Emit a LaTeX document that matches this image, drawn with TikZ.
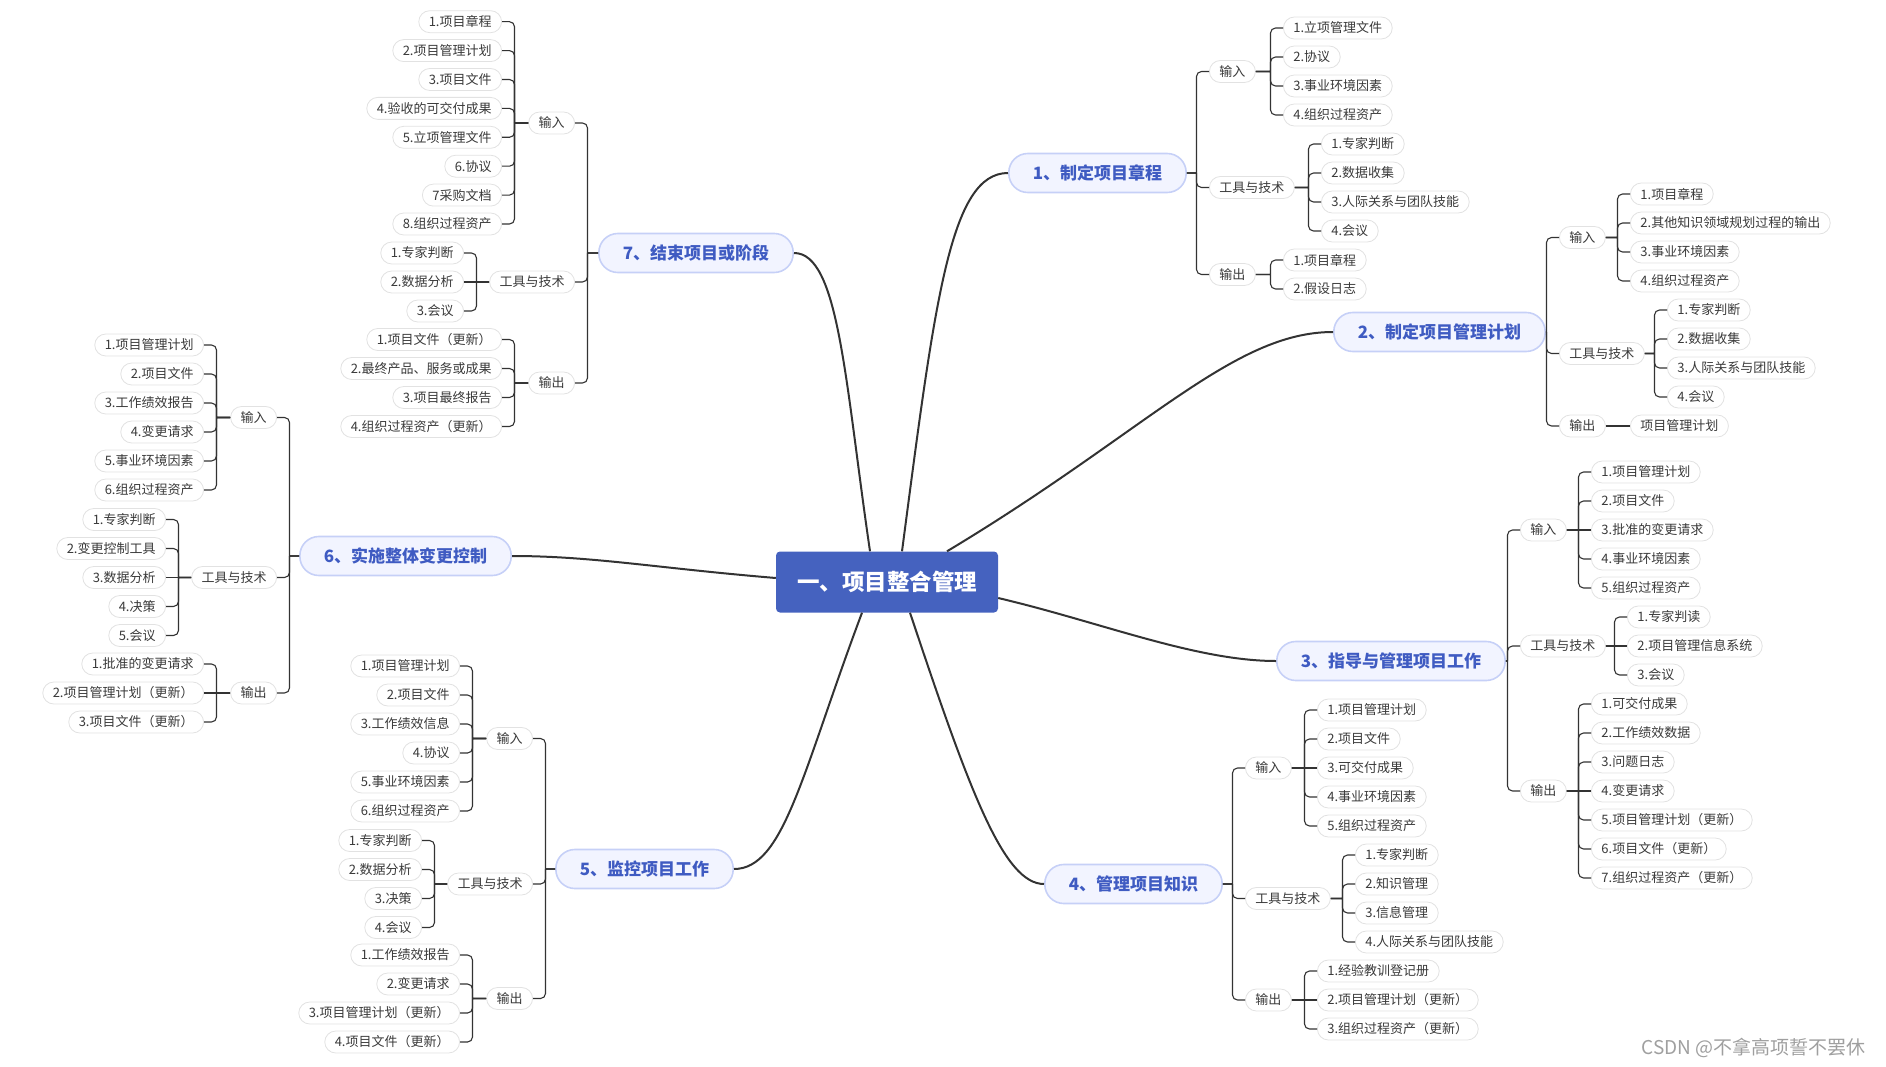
\documentclass[tikz,border=0pt]{standalone}
\usepackage{fontspec}
\setmainfont{Noto Sans CJK SC}
\usetikzlibrary{calc}

\definecolor{rootblue}{HTML}{4562BF}
\definecolor{branchfill}{HTML}{F2F4FF}
\definecolor{branchline}{HTML}{C6D0F7}
\definecolor{branchtext}{HTML}{3F5BC2}
\definecolor{leafline}{HTML}{E2E2E2}
\definecolor{leaftext}{HTML}{3A3A3A}
\definecolor{linecol}{HTML}{333333}

\begin{document}
\begin{tikzpicture}[x=1pt, y=-1pt,
                    root/.style={fill=rootblue, rounded corners=4pt, minimum width=222pt, minimum height=61pt, text=white, font=\fontsize{22.5}{26}\selectfont\bfseries},
                    branch/.style={draw=branchline, fill=branchfill, line width=1.6pt, rounded corners=19pt, minimum height=39pt, inner xsep=24pt, text=branchtext, font=\fontsize{17}{20}\selectfont\bfseries},
                    leaf/.style={draw=leafline, fill=white, line width=0.8pt, rounded corners=11pt, minimum height=22pt, inner xsep=10pt, inner ysep=0pt, text=leaftext, font=\fontsize{13}{15}\selectfont},
                    trunk/.style={draw=linecol, line width=2pt},
                    rlink/.style={draw=linecol, line width=1.1pt, to path={(\tikztostart.east) -- ($(\tikztostart.east -| \tikztotarget.west)+(-12.5,0)$) [rounded corners=5pt] ($(\tikztostart.east -| \tikztotarget.west)+(-12.5,0)$) |- (\tikztotarget.west)}},
                    llink/.style={draw=linecol, line width=1.1pt, to path={(\tikztostart.west) -- ($(\tikztostart.west -| \tikztotarget.east)+(12.5,0)$) [rounded corners=5pt] ($(\tikztostart.west -| \tikztotarget.east)+(12.5,0)$) |- (\tikztotarget.east)}}]

    \useasboundingbox (0,0) rectangle (1886,1067);

    \node[root] (root) at (887,582) {一、项目整合管理};

    % 1
    \node[branch, anchor=west] (p1) at (1008,173) {1、制定项目章程};
    \node[leaf, anchor=west] (p1a) at (1209,71.5) {输入};
    \node[leaf, anchor=west] (p1t) at (1209,187.5) {工具与技术};
    \node[leaf, anchor=west] (p1o) at (1209,274.5) {输出};
    \node[leaf, anchor=west] (p1a1) at (1283,28) {1.立项管理文件};
    \node[leaf, anchor=west] (p1a2) at (1283,57) {2.协议};
    \node[leaf, anchor=west] (p1a3) at (1283,86) {3.事业环境因素};
    \node[leaf, anchor=west] (p1a4) at (1283,115) {4.组织过程资产};
    \node[leaf, anchor=west] (p1t1) at (1321,144) {1.专家判断};
    \node[leaf, anchor=west] (p1t2) at (1321,173) {2.数据收集};
    \node[leaf, anchor=west] (p1t3) at (1321,202) {3.人际关系与团队技能};
    \node[leaf, anchor=west] (p1t4) at (1321,231) {4.会议};
    \node[leaf, anchor=west] (p1o1) at (1283,260) {1.项目章程};
    \node[leaf, anchor=west] (p1o2) at (1283,289) {2.假设日志};

    % 2
    \node[branch, anchor=west] (p2) at (1333,332) {2、制定项目管理计划};
    \node[leaf, anchor=west] (p2a) at (1559,237.5) {输入};
    \node[leaf, anchor=west] (p2t) at (1559,353.5) {工具与技术};
    \node[leaf, anchor=west] (p2o) at (1559,426) {输出};
    \node[leaf, anchor=west] (p2a1) at (1630,194) {1.项目章程};
    \node[leaf, anchor=west] (p2a2) at (1630,223) {2.其他知识领域规划过程的输出};
    \node[leaf, anchor=west] (p2a3) at (1630,252) {3.事业环境因素};
    \node[leaf, anchor=west] (p2a4) at (1630,281) {4.组织过程资产};
    \node[leaf, anchor=west] (p2t1) at (1667,310) {1.专家判断};
    \node[leaf, anchor=west] (p2t2) at (1667,339) {2.数据收集};
    \node[leaf, anchor=west] (p2t3) at (1667,368) {3.人际关系与团队技能};
    \node[leaf, anchor=west] (p2t4) at (1667,397) {4.会议};
    \node[leaf, anchor=west] (p2o1) at (1630,426) {项目管理计划};

    % 3
    \node[branch, anchor=west] (p3) at (1276,661) {3、指导与管理项目工作};
    \node[leaf, anchor=west] (p3a) at (1520,530) {输入};
    \node[leaf, anchor=west] (p3t) at (1520,646) {工具与技术};
    \node[leaf, anchor=west] (p3o) at (1520,791) {输出};
    \node[leaf, anchor=west] (p3a1) at (1591,472) {1.项目管理计划};
    \node[leaf, anchor=west] (p3a2) at (1591,501) {2.项目文件};
    \node[leaf, anchor=west] (p3a3) at (1591,530) {3.批准的变更请求};
    \node[leaf, anchor=west] (p3a4) at (1591,559) {4.事业环境因素};
    \node[leaf, anchor=west] (p3a5) at (1591,588) {5.组织过程资产};
    \node[leaf, anchor=west] (p3t1) at (1627,617) {1.专家判读};
    \node[leaf, anchor=west] (p3t2) at (1627,646) {2.项目管理信息系统};
    \node[leaf, anchor=west] (p3t3) at (1627,675) {3.会议};
    \node[leaf, anchor=west] (p3o1) at (1591,704) {1.可交付成果};
    \node[leaf, anchor=west] (p3o2) at (1591,733) {2.工作绩效数据};
    \node[leaf, anchor=west] (p3o3) at (1591,762) {3.问题日志};
    \node[leaf, anchor=west] (p3o4) at (1591,791) {4.变更请求};
    \node[leaf, anchor=west] (p3o5) at (1591,820) {5.项目管理计划（更新）};
    \node[leaf, anchor=west] (p3o6) at (1591,849) {6.项目文件（更新）};
    \node[leaf, anchor=west] (p3o7) at (1591,878) {7.组织过程资产（更新）};

    % 4
    \node[branch, anchor=west] (p4) at (1044,884) {4、管理项目知识};
    \node[leaf, anchor=west] (p4a) at (1245,768) {输入};
    \node[leaf, anchor=west] (p4t) at (1245,898.5) {工具与技术};
    \node[leaf, anchor=west] (p4o) at (1245,1000) {输出};
    \node[leaf, anchor=west] (p4a1) at (1317,710) {1.项目管理计划};
    \node[leaf, anchor=west] (p4a2) at (1317,739) {2.项目文件};
    \node[leaf, anchor=west] (p4a3) at (1317,768) {3.可交付成果};
    \node[leaf, anchor=west] (p4a4) at (1317,797) {4.事业环境因素};
    \node[leaf, anchor=west] (p4a5) at (1317,826) {5.组织过程资产};
    \node[leaf, anchor=west] (p4t1) at (1355,855) {1.专家判断};
    \node[leaf, anchor=west] (p4t2) at (1355,884) {2.知识管理};
    \node[leaf, anchor=west] (p4t3) at (1355,913) {3.信息管理};
    \node[leaf, anchor=west] (p4t4) at (1355,942) {4.人际关系与团队技能};
    \node[leaf, anchor=west] (p4o1) at (1317,971) {1.经验教训登记册};
    \node[leaf, anchor=west] (p4o2) at (1317,1000) {2.项目管理计划（更新）};
    \node[leaf, anchor=west] (p4o3) at (1317,1029) {3.组织过程资产（更新）};

    % 5
    \node[branch, anchor=east] (p5) at (734,869) {5、监控项目工作};
    \node[leaf, anchor=east] (p5a) at (533,738.5) {输入};
    \node[leaf, anchor=east] (p5t) at (533,884) {工具与技术};
    \node[leaf, anchor=east] (p5o) at (533,998.5) {输出};
    \node[leaf, anchor=east] (p5a1) at (460,666) {1.项目管理计划};
    \node[leaf, anchor=east] (p5a2) at (460,695) {2.项目文件};
    \node[leaf, anchor=east] (p5a3) at (460,724) {3.工作绩效信息};
    \node[leaf, anchor=east] (p5a4) at (460,753) {4.协议};
    \node[leaf, anchor=east] (p5a5) at (460,782) {5.事业环境因素};
    \node[leaf, anchor=east] (p5a6) at (460,811) {6.组织过程资产};
    \node[leaf, anchor=east] (p5t1) at (422,840.5) {1.专家判断};
    \node[leaf, anchor=east] (p5t2) at (422,869.5) {2.数据分析};
    \node[leaf, anchor=east] (p5t3) at (422,898.5) {3.决策};
    \node[leaf, anchor=east] (p5t4) at (422,927.5) {4.会议};
    \node[leaf, anchor=east] (p5o1) at (460,955) {1.工作绩效报告};
    \node[leaf, anchor=east] (p5o2) at (460,984) {2.变更请求};
    \node[leaf, anchor=east] (p5o3) at (460,1013) {3.项目管理计划（更新）};
    \node[leaf, anchor=east] (p5o4) at (460,1042) {4.项目文件（更新）};

    % 6
    \node[branch, anchor=east] (p6) at (512,556) {6、实施整体变更控制};
    \node[leaf, anchor=east] (p6a) at (277,417.5) {输入};
    \node[leaf, anchor=east] (p6t) at (277,577.5) {工具与技术};
    \node[leaf, anchor=east] (p6o) at (277,693) {输出};
    \node[leaf, anchor=east] (p6a1) at (204,345) {1.项目管理计划};
    \node[leaf, anchor=east] (p6a2) at (204,374) {2.项目文件};
    \node[leaf, anchor=east] (p6a3) at (204,403) {3.工作绩效报告};
    \node[leaf, anchor=east] (p6a4) at (204,432) {4.变更请求};
    \node[leaf, anchor=east] (p6a5) at (204,461) {5.事业环境因素};
    \node[leaf, anchor=east] (p6a6) at (204,490) {6.组织过程资产};
    \node[leaf, anchor=east] (p6t1) at (166,519.5) {1.专家判断};
    \node[leaf, anchor=east] (p6t2) at (166,548.5) {2.变更控制工具};
    \node[leaf, anchor=east] (p6t3) at (166,577.5) {3.数据分析};
    \node[leaf, anchor=east] (p6t4) at (166,606.5) {4.决策};
    \node[leaf, anchor=east] (p6t5) at (166,635.5) {5.会议};
    \node[leaf, anchor=east] (p6o1) at (204,664) {1.批准的变更请求};
    \node[leaf, anchor=east] (p6o2) at (204,693) {2.项目管理计划（更新）};
    \node[leaf, anchor=east] (p6o3) at (204,722) {3.项目文件（更新）};

    % 7
    \node[branch, anchor=east] (p7) at (794,253) {7、结束项目或阶段};
    \node[leaf, anchor=east] (p7a) at (575,123) {输入};
    \node[leaf, anchor=east] (p7t) at (575,282) {工具与技术};
    \node[leaf, anchor=east] (p7o) at (575,383) {输出};
    \node[leaf, anchor=east] (p7a1) at (502,21.7) {1.项目章程};
    \node[leaf, anchor=east] (p7a2) at (502,50.6) {2.项目管理计划};
    \node[leaf, anchor=east] (p7a3) at (502,79.5) {3.项目文件};
    \node[leaf, anchor=east] (p7a4) at (502,108.4) {4.验收的可交付成果};
    \node[leaf, anchor=east] (p7a5) at (502,137.3) {5.立项管理文件};
    \node[leaf, anchor=east] (p7a6) at (502,166.2) {6.协议};
    \node[leaf, anchor=east] (p7a7) at (502,195.1) {7采购文档};
    \node[leaf, anchor=east] (p7a8) at (502,224) {8.组织过程资产};
    \node[leaf, anchor=east] (p7t1) at (464,253) {1.专家判断};
    \node[leaf, anchor=east] (p7t2) at (464,282) {2.数据分析};
    \node[leaf, anchor=east] (p7t3) at (464,311) {3.会议};
    \node[leaf, anchor=east] (p7o1) at (502,339.5) {1.项目文件（更新）};
    \node[leaf, anchor=east] (p7o2) at (502,368.5) {2.最终产品、服务或成果};
    \node[leaf, anchor=east] (p7o3) at (502,397.5) {3.项目最终报告};
    \node[leaf, anchor=east] (p7o4) at (502,426.5) {4.组织过程资产（更新）};

    \node[anchor=east, text=gray!75, font=\fontsize{19}{22}\selectfont] (mark) at (1869,1048) {CSDN @不拿高项誓不罢休};

    % trunk
    \draw[trunk] ([xshift=15pt]root.north) .. controls +(33,-251) and +(-58,0) .. (p1.west);
    \draw[trunk] ([xshift=60pt]root.north) .. controls +(200,-120) and +(-100,0) .. (p2.west);
    \draw[trunk] ([yshift=-16pt]root.east) .. controls +(102,24) and +(-80,0) .. (p3.west);
    \draw[trunk] ([xshift=23pt]root.south) .. controls +(60,180) and +(-40,0) .. (p4.west);
    \draw[trunk] ([xshift=-25pt]root.south) .. controls +(-60,160) and +(50,0) .. (p5.east);
    \draw[trunk] ([yshift=4pt]root.west) .. controls +(-120,-10) and +(80,0) .. (p6.east);
    \draw[trunk] ([xshift=-17pt]root.north) .. controls +(-25,-170) and +(45,0) .. (p7.east);

    % 1
    \draw[rlink] (p1) to (p1a);
    \draw[rlink] (p1) to (p1t);
    \draw[rlink] (p1) to (p1o);
    \draw[rlink] (p1a) to (p1a1);
    \draw[rlink] (p1a) to (p1a2);
    \draw[rlink] (p1a) to (p1a3);
    \draw[rlink] (p1a) to (p1a4);
    \draw[rlink] (p1t) to (p1t1);
    \draw[rlink] (p1t) to (p1t2);
    \draw[rlink] (p1t) to (p1t3);
    \draw[rlink] (p1t) to (p1t4);
    \draw[rlink] (p1o) to (p1o1);
    \draw[rlink] (p1o) to (p1o2);

    % 2
    \draw[rlink] (p2) to (p2a);
    \draw[rlink] (p2) to (p2t);
    \draw[rlink] (p2) to (p2o);
    \draw[rlink] (p2a) to (p2a1);
    \draw[rlink] (p2a) to (p2a2);
    \draw[rlink] (p2a) to (p2a3);
    \draw[rlink] (p2a) to (p2a4);
    \draw[rlink] (p2t) to (p2t1);
    \draw[rlink] (p2t) to (p2t2);
    \draw[rlink] (p2t) to (p2t3);
    \draw[rlink] (p2t) to (p2t4);
    \draw[rlink] (p2o) -- (p2o1);

    % 3
    \draw[rlink] (p3) to (p3a);
    \draw[rlink] (p3) to (p3t);
    \draw[rlink] (p3) to (p3o);
    \draw[rlink] (p3a) to (p3a1);
    \draw[rlink] (p3a) to (p3a2);
    \draw[rlink] (p3a) -- (p3a3);
    \draw[rlink] (p3a) to (p3a4);
    \draw[rlink] (p3a) to (p3a5);
    \draw[rlink] (p3t) to (p3t1);
    \draw[rlink] (p3t) -- (p3t2);
    \draw[rlink] (p3t) to (p3t3);
    \draw[rlink] (p3o) to (p3o1);
    \draw[rlink] (p3o) to (p3o2);
    \draw[rlink] (p3o) to (p3o3);
    \draw[rlink] (p3o) -- (p3o4);
    \draw[rlink] (p3o) to (p3o5);
    \draw[rlink] (p3o) to (p3o6);
    \draw[rlink] (p3o) to (p3o7);

    % 4
    \draw[rlink] (p4) to (p4a);
    \draw[rlink] (p4) to (p4t);
    \draw[rlink] (p4) to (p4o);
    \draw[rlink] (p4a) to (p4a1);
    \draw[rlink] (p4a) to (p4a2);
    \draw[rlink] (p4a) -- (p4a3);
    \draw[rlink] (p4a) to (p4a4);
    \draw[rlink] (p4a) to (p4a5);
    \draw[rlink] (p4t) to (p4t1);
    \draw[rlink] (p4t) to (p4t2);
    \draw[rlink] (p4t) to (p4t3);
    \draw[rlink] (p4t) to (p4t4);
    \draw[rlink] (p4o) to (p4o1);
    \draw[rlink] (p4o) -- (p4o2);
    \draw[rlink] (p4o) to (p4o3);

    % 5
    \draw[llink] (p5) to (p5a);
    \draw[llink] (p5) to (p5t);
    \draw[llink] (p5) to (p5o);
    \draw[llink] (p5a) to (p5a1);
    \draw[llink] (p5a) to (p5a2);
    \draw[llink] (p5a) to (p5a3);
    \draw[llink] (p5a) to (p5a4);
    \draw[llink] (p5a) to (p5a5);
    \draw[llink] (p5a) to (p5a6);
    \draw[llink] (p5t) to (p5t1);
    \draw[llink] (p5t) to (p5t2);
    \draw[llink] (p5t) to (p5t3);
    \draw[llink] (p5t) to (p5t4);
    \draw[llink] (p5o) to (p5o1);
    \draw[llink] (p5o) to (p5o2);
    \draw[llink] (p5o) to (p5o3);
    \draw[llink] (p5o) to (p5o4);

    % 6
    \draw[llink] (p6) to (p6a);
    \draw[llink] (p6) to (p6t);
    \draw[llink] (p6) to (p6o);
    \draw[llink] (p6a) to (p6a1);
    \draw[llink] (p6a) to (p6a2);
    \draw[llink] (p6a) to (p6a3);
    \draw[llink] (p6a) to (p6a4);
    \draw[llink] (p6a) to (p6a5);
    \draw[llink] (p6a) to (p6a6);
    \draw[llink] (p6t) to (p6t1);
    \draw[llink] (p6t) to (p6t2);
    \draw[llink] (p6t) -- (p6t3);
    \draw[llink] (p6t) to (p6t4);
    \draw[llink] (p6t) to (p6t5);
    \draw[llink] (p6o) to (p6o1);
    \draw[llink] (p6o) -- (p6o2);
    \draw[llink] (p6o) to (p6o3);

    % 7
    \draw[llink] (p7) to (p7a);
    \draw[llink] (p7) to (p7t);
    \draw[llink] (p7) to (p7o);
    \draw[llink] (p7a) to (p7a1);
    \draw[llink] (p7a) to (p7a2);
    \draw[llink] (p7a) to (p7a3);
    \draw[llink] (p7a) to (p7a4);
    \draw[llink] (p7a) to (p7a5);
    \draw[llink] (p7a) to (p7a6);
    \draw[llink] (p7a) to (p7a7);
    \draw[llink] (p7a) to (p7a8);
    \draw[llink] (p7t) to (p7t1);
    \draw[llink] (p7t) -- (p7t2);
    \draw[llink] (p7t) to (p7t3);
    \draw[llink] (p7o) to (p7o1);
    \draw[llink] (p7o) to (p7o2);
    \draw[llink] (p7o) to (p7o3);
    \draw[llink] (p7o) to (p7o4);
\end{tikzpicture}
\end{document}
